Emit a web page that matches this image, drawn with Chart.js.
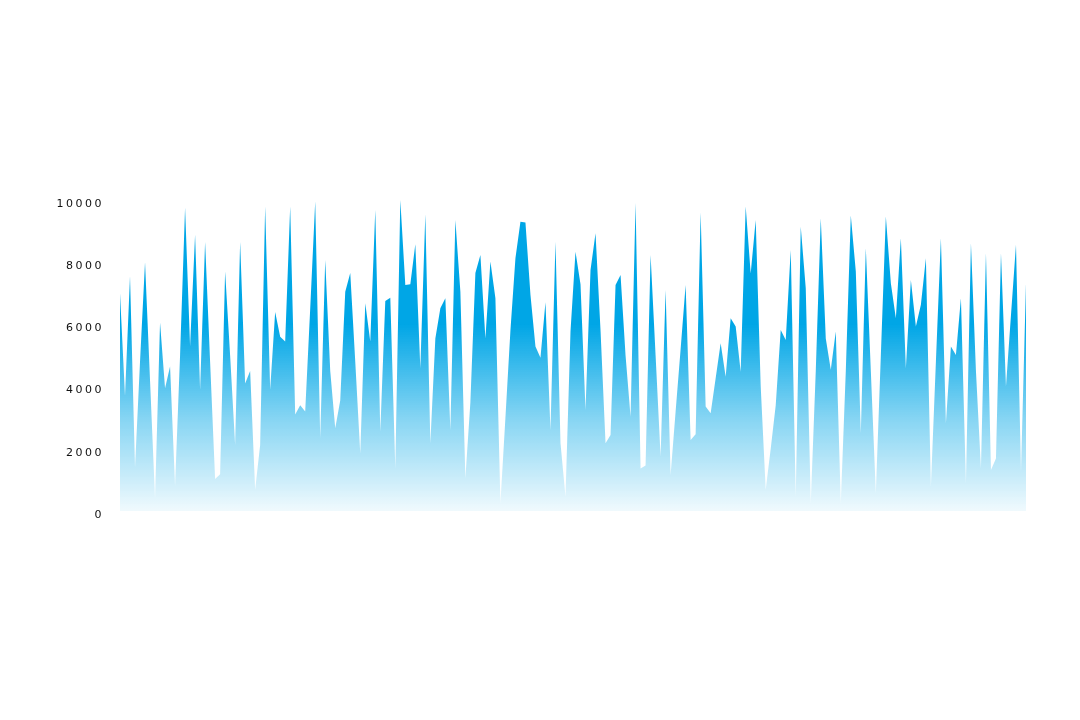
<!DOCTYPE html>
<html>
<head>
<meta charset="utf-8">
<script src="https://cdn.jsdelivr.net/npm/chart.js@4/dist/chart.umd.min.js"></script>
<style>
  html, body { margin: 0; padding: 0; background: #ffffff; }
  #wrap { width: 1080px; height: 720px; position: relative; }
</style>
</head>
<body>
<div id="wrap"><canvas id="c" width="1080" height="720"></canvas></div>
<script>
const values = [
  7000, 3700, 7550, 1400, 4800, 8000, 4200, 400, 6050, 3950,
  4650, 800, 5000, 9750, 5300, 8880, 3900, 8650, 4800, 1030,
  1180, 7700, 5000, 2120, 8650, 4100, 4500, 680, 2120, 9790,
  3900, 6400, 5600, 5450, 9790, 3100, 3400, 3200, 6500, 9950,
  2340, 8070, 4500, 2660, 3550, 7050, 7650, 4800, 1850, 6680,
  5450, 9680, 2550, 6750, 6860, 1370, 10000, 7270, 7290, 8580,
  4590, 9540, 2180, 5550, 6520, 6840, 2600, 9360, 7050, 1050,
  3500, 7650, 8230, 5550, 8020, 6840, 250, 3000, 5800, 8130,
  9300, 9280, 6950, 5290, 4930, 6710, 2600, 8660, 2180, 460,
  5770, 8340, 7290, 3250, 7750, 8930, 5800, 2180, 2440, 7270,
  7590, 5000, 3030, 9900, 1370, 1460, 8230, 5000, 1750, 7110,
  1160, 3200, 5200, 7270, 2280, 2470, 9600, 3360, 3140, 4270,
  5390, 4320, 6200, 5930, 4480, 9790, 7640, 9360, 4000, 680,
  2000, 3400, 5820, 5500, 8390, 460, 9140, 7160, 250, 4500,
  9410, 5550, 4540, 5770, 250, 4500, 9500, 7700, 2500, 8450,
  4500, 570, 5000, 9470, 7320, 6200, 8770, 4590, 7430, 5930,
  6630, 8130, 780, 4800, 8770, 2820, 5290, 5020, 6840, 890,
  8610, 4500, 1370, 8290, 1320, 1690, 8290, 4000, 6300, 8560,
  1270, 7320
];
const categories = values.map((v, i) => String(i + 1));
const yTicks = [0, 2000, 4000, 6000, 8000, 10000];

const letterSpacingPlugin = {
  id: 'letterSpacing',
  beforeDraw(chart) { chart.ctx.letterSpacing = '2.5px'; }
};

function areaGradient(context) {
  const chart = context.chart;
  const area = chart.chartArea;
  if (!area) return 'rgba(0,166,230,0.8)';
  const g = chart.ctx.createLinearGradient(0, area.top, 0, area.bottom);
  g.addColorStop(0, 'rgba(0,166,230,1)');
  g.addColorStop(0.4, 'rgba(0,166,230,1)');
  g.addColorStop(0.7, 'rgba(0,166,230,0.48)');
  g.addColorStop(1, 'rgba(0,166,230,0.06)');
  return g;
}

new Chart(document.getElementById('c'), {
  type: 'line',
  data: {
    labels: categories,
    datasets: [{
      data: values,
      fill: 'origin',
      backgroundColor: areaGradient,
      borderWidth: 0,
      borderColor: 'rgba(0,0,0,0)',
      pointRadius: 0,
      pointHoverRadius: 0,
      tension: 0
    }]
  },
  options: {
    responsive: false,
    animation: false,
    events: [],
    layout: { padding: { left: 0, right: 54, top: 200, bottom: 209 } },
    plugins: { legend: { display: false }, tooltip: { enabled: false } },
    scales: {
      x: { display: false, offset: false },
      y: {
        min: 0,
        max: 10000,
        afterFit(scale) { scale.width = 120; },
        afterBuildTicks(scale) { scale.ticks = yTicks.map(v => ({ value: v })); },
        grid: { display: false, drawTicks: false },
        border: { display: false },
        ticks: {
          padding: 16,
          labelOffset: 4,
          color: '#111111',
          font: { family: 'DejaVu Sans', size: 11 },
          callback: (v) => String(v)
        }
      }
    }
  },
  plugins: [letterSpacingPlugin]
});
</script>
</body>
</html>
